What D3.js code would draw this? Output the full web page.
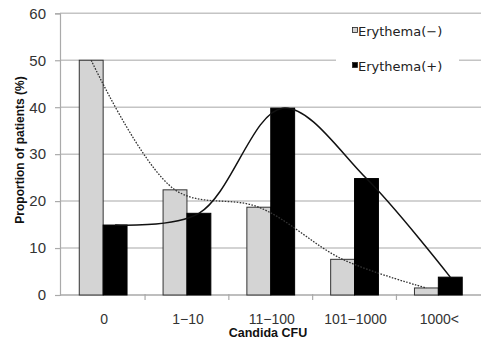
<!DOCTYPE html>
<html>
<head>
<meta charset="utf-8">
<script src="https://cdn.jsdelivr.net/npm/d3@7"></script>
<style>
  html, body { margin: 0; padding: 0; background: #fff; }
  svg { display: block; }
</style>
</head>
<body>
<svg id="chart" width="481" height="340"></svg>
<script>
// Candida CFU groups and the share of patients in each, by erythema status
const categories = ["0", "1\u221210", "11\u2212100", "101\u22121000", "1000<"];
const seriesNames = ["Erythema(\u2212)", "Erythema(+)"];
const erythemaNeg = [50, 22.4, 18.7, 7.6, 1.5];
const erythemaPos = [14.9, 17.4, 39.8, 24.8, 3.8];
const yTicks = [0, 10, 20, 30, 40, 50, 60];

const svg = d3.select("#chart");
const plotLeft = 60, plotRight = 481.5, plotTop = 13.3, plotBottom = 295;

const x0 = d3.scaleBand().domain(categories).range([plotLeft, plotRight])
  .paddingInner(0.43).paddingOuter(0.23);
const x1 = d3.scaleBand().domain(seriesNames).range([0, x0.bandwidth()]).padding(0);
const y = d3.scaleLinear().domain([0, 60]).range([plotBottom, plotTop]);

// horizontal gridlines
svg.append("g").selectAll("line").data(yTicks).join("line")
  .attr("x1", plotLeft).attr("x2", 481)
  .attr("y1", d => y(d)).attr("y2", d => y(d))
  .attr("stroke", "#c4c4c4").attr("stroke-width", 1.5);

// legend background covering the gridlines behind it
svg.append("rect").attr("x", 336).attr("y", 14.2).attr("width", 123).attr("height", 68)
  .attr("fill", "#fff");

// y axis
const yAxis = svg.append("g").attr("transform", `translate(${plotLeft},0)`)
  .call(d3.axisLeft(y).tickValues(yTicks).tickSize(5).tickPadding(9));
yAxis.select(".domain").attr("stroke", "#aaa").attr("stroke-width", 1.2);
yAxis.selectAll(".tick line").attr("stroke", "#aaa").attr("stroke-width", 1.2);
yAxis.selectAll(".tick text").attr("font-family", "Liberation Sans, Arial, sans-serif")
  .attr("font-size", 15).attr("fill", "#333");

// x axis: baseline with category boundary ticks
const xAxisG = svg.append("g");
xAxisG.append("line").attr("x1", plotLeft).attr("x2", 481).attr("y1", plotBottom).attr("y2", plotBottom)
  .attr("stroke", "#aaa").attr("stroke-width", 1.2);
const step = x0.step();
xAxisG.selectAll("line.sep").data(categories.slice(1)).join("line").attr("class", "sep")
  .attr("x1", d => x0(d) - step * x0.paddingInner() / 2)
  .attr("x2", d => x0(d) - step * x0.paddingInner() / 2)
  .attr("y1", plotBottom - 1).attr("y2", plotBottom + 5)
  .attr("stroke", "#aaa").attr("stroke-width", 1.2);
xAxisG.selectAll("text").data(categories).join("text")
  .attr("x", d => x0(d) + x0.bandwidth() / 2 + 1)
  .attr("y", 323.5)
  .attr("text-anchor", "middle")
  .attr("font-family", "Liberation Sans, Arial, sans-serif")
  .attr("font-size", 14).attr("fill", "#333")
  .text(d => d);

// bars
const rows = categories.map((c, i) => ({ cat: c, values: [erythemaNeg[i], erythemaPos[i]] }));
const groups = svg.append("g").selectAll("g").data(rows).join("g")
  .attr("transform", d => `translate(${x0(d.cat)},0)`);
groups.selectAll("rect").data(d => d.values.map((v, k) => ({ name: seriesNames[k], v })))
  .join("rect")
  .attr("x", d => x1(d.name))
  .attr("y", d => y(d.v))
  .attr("width", x1.bandwidth())
  .attr("height", d => y(0) - y(d.v))
  .attr("fill", d => d.name === seriesNames[0] ? "#d4d4d4" : "#000")
  .attr("stroke", d => d.name === seriesNames[0] ? "#333" : "#000")
  .attr("stroke-width", 1);

// smoothed lines through each series
const cx = (c, name) => x0(c) + x1(name) + x1.bandwidth() / 2;
const line = d3.line().curve(d3.curveCatmullRom.alpha(0.5));
svg.append("path")
  .attr("d", line(categories.map((c, i) => [cx(c, seriesNames[0]), y(erythemaNeg[i])])))
  .attr("fill", "none").attr("stroke", "#333").attr("stroke-width", 1.3)
  .attr("stroke-dasharray", "1.6,1.4");
svg.append("path")
  .attr("d", line(categories.map((c, i) => [cx(c, seriesNames[1]), y(erythemaPos[i])])))
  .attr("fill", "none").attr("stroke", "#111").attr("stroke-width", 1.5);

// legend
const legend = svg.append("g");
seriesNames.forEach((name, k) => {
  const ly = 36 + k * 35;
  legend.append("rect").attr("x", 352.5).attr("y", ly - 8.5).attr("width", 5).attr("height", 5)
    .attr("fill", k === 0 ? "#d4d4d4" : "#000").attr("stroke", "#222").attr("stroke-width", 0.8);
  legend.append("text").attr("x", 358).attr("y", ly)
    .attr("font-family", "DejaVu Sans, sans-serif").attr("font-size", 13).attr("fill", "#222")
    .text(name);
});

// axis titles
svg.append("text").attr("x", 268).attr("y", 336.5).attr("text-anchor", "middle")
  .attr("font-family", "Liberation Sans, Arial, sans-serif").attr("font-size", 12.5)
  .attr("font-weight", "bold").attr("fill", "#111").text("Candida CFU");
svg.append("text").attr("transform", "translate(23.5,150) rotate(-90)").attr("text-anchor", "middle")
  .attr("font-family", "Liberation Sans, Arial, sans-serif").attr("font-size", 12)
  .attr("font-weight", "bold").attr("fill", "#111").text("Proportion of patients (%)");
</script>
</body>
</html>
